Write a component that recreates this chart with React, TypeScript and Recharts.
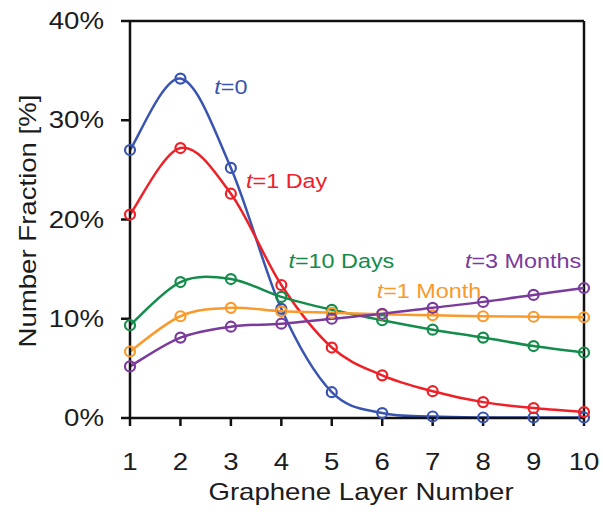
import { LineChart, Line, XAxis, YAxis, ReferenceLine, ReferenceDot } from 'recharts';

const layers = [1, 2, 3, 4, 5, 6, 7, 8, 9, 10];
const t0 = [27.0, 34.2, 25.2, 11.0, 2.6, 0.5, 0.15, 0.05, 0.05, 0.05];
const oneDay = [20.5, 27.2, 22.6, 13.4, 7.1, 4.3, 2.7, 1.6, 1.0, 0.6];
const tenDays = [9.35, 13.7, 14.0, 12.2, 10.9, 9.85, 8.9, 8.1, 7.25, 6.6];
const oneMonth = [6.7, 10.25, 11.1, 10.75, 10.6, 10.45, 10.35, 10.25, 10.2, 10.15];
const threeMonths = [5.2, 8.1, 9.2, 9.5, 10.0, 10.5, 11.1, 11.7, 12.4, 13.1];
const yTicks = [0, 10, 20, 30, 40];

interface SeriesProps {
  key: string;
  name: string;
  color: string;
  values: number[];
  tagAt: { x: number; y: number };
}

const series: SeriesProps[] = [
  { key: 't0', name: '=0', color: '#3a55b0', values: t0, tagAt: { x: 2.69, y: 33.2 } },
  { key: 'oneDay', name: '=1 Day', color: '#ee2128', values: oneDay, tagAt: { x: 3.32, y: 23.7 } },
  { key: 'tenDays', name: '=10 Days', color: '#148c4b', values: tenDays, tagAt: { x: 4.16, y: 15.7 } },
  { key: 'oneMonth', name: '=1 Month', color: '#f89a2c', values: oneMonth, tagAt: { x: 5.91, y: 12.6 } },
  { key: 'threeMonths', name: '=3 Months', color: '#7a3b9d', values: threeMonths, tagAt: { x: 7.66, y: 15.7 } },
];

const chartData = layers.map((layer, i) => {
  const row: Record<string, number> = { layer };
  series.forEach((s) => {
    row[s.key] = s.values[i];
  });
  return row;
});

// smoothed line like a spreadsheet "smoothed line" (catmull-rom style beziers)
function smoothCurve(context: any) {
  let pts: number[][] = [];
  return {
    areaStart() {},
    areaEnd() {},
    lineStart() {
      pts = [];
    },
    point(x: number, y: number) {
      pts.push([+x, +y]);
    },
    lineEnd() {
      const n = pts.length;
      if (!n) return;
      context.moveTo(pts[0][0], pts[0][1]);
      for (let i = 0; i < n - 1; i++) {
        const p0 = pts[Math.max(i - 1, 0)];
        const p1 = pts[i];
        const p2 = pts[i + 1];
        const p3 = pts[Math.min(i + 2, n - 1)];
        context.bezierCurveTo(
          p1[0] + (p2[0] - p0[0]) / 6,
          p1[1] + (p2[1] - p0[1]) / 6,
          p2[0] - (p3[0] - p1[0]) / 6,
          p2[1] - (p3[1] - p1[1]) / 6,
          p2[0],
          p2[1]
        );
      }
    },
  };
}

const FONT = '"Liberation Sans", Arial, sans-serif';

function WideText({ x, y, anchor, size, angle = 0, fill = '#1c1c1c', children }: any) {
  return (
    <text
      transform={`translate(${x},${y}) rotate(${angle}) scale(1.2,1)`}
      textAnchor={anchor}
      fontSize={size}
      fontFamily={FONT}
      fill={fill}
      dominantBaseline="central"
    >
      {children}
    </text>
  );
}

const YTick = ({ x, y, payload }: any) => (
  <WideText x={x} y={y} anchor="end" size={23}>
    {`${payload.value}%`}
  </WideText>
);

const XTick = ({ x, y, payload }: any) => (
  <WideText x={x} y={y} anchor="middle" size={23}>
    {payload.value}
  </WideText>
);

function SeriesTag({ viewBox, text, color }: any) {
  const vb = viewBox || {};
  return (
    <WideText x={vb.x} y={vb.y} anchor="start" size={19.5} fill={color}>
      <tspan fontStyle="italic">t</tspan>
      {text}
    </WideText>
  );
}

export default function App() {
  return (
    <div style={{ position: 'absolute', left: 0, top: 0, background: '#fff' }}>
      <LineChart width={603} height={512} data={chartData} margin={{ top: 21, right: 19, left: 0, bottom: 0 }}>
        <XAxis
          dataKey="layer"
          type="number"
          domain={[1, 10]}
          ticks={layers}
          height={94}
          stroke="#111"
          strokeWidth={2.5}
          tickSize={8}
          tickMargin={36}
          tick={<XTick />}
          label={{
            content: (p: any) => {
              const vb = p.viewBox || { x: 130, width: 454 };
              return (
                <WideText x={vb.x + vb.width / 2 + 4} y={492} anchor="middle" size={23}>
                  Graphene Layer Number
                </WideText>
              );
            },
          }}
        />
        <YAxis
          domain={[0, 40]}
          ticks={yTicks}
          width={130}
          stroke="#111"
          strokeWidth={2.5}
          tickSize={9}
          tickMargin={17}
          tick={<YTick />}
          label={{
            content: () => (
              <WideText x={28} y={221} angle={-90} anchor="middle" size={23}>
                Number Fraction [%]
              </WideText>
            ),
          }}
        />
        <ReferenceLine y={40} stroke="#111" strokeWidth={2.5} />
        <ReferenceLine x={10} stroke="#111" strokeWidth={2.5} />
        {series.map((s) => (
          <Line
            key={s.key}
            dataKey={s.key}
            name={s.name}
            type={smoothCurve as any}
            stroke={s.color}
            strokeWidth={2.5}
            dot={{ r: 5, fill: 'none', stroke: s.color, strokeWidth: 2.2 }}
            activeDot={false}
            isAnimationActive={false}
          />
        ))}
        {series.map((s) => (
          <ReferenceDot
            key={`tag-${s.key}`}
            x={s.tagAt.x}
            y={s.tagAt.y}
            r={1}
            fill="none"
            stroke="none"
            label={(p: any) => <SeriesTag viewBox={p.viewBox} text={s.name} color={s.color} />}
          />
        ))}
      </LineChart>
    </div>
  );
}
